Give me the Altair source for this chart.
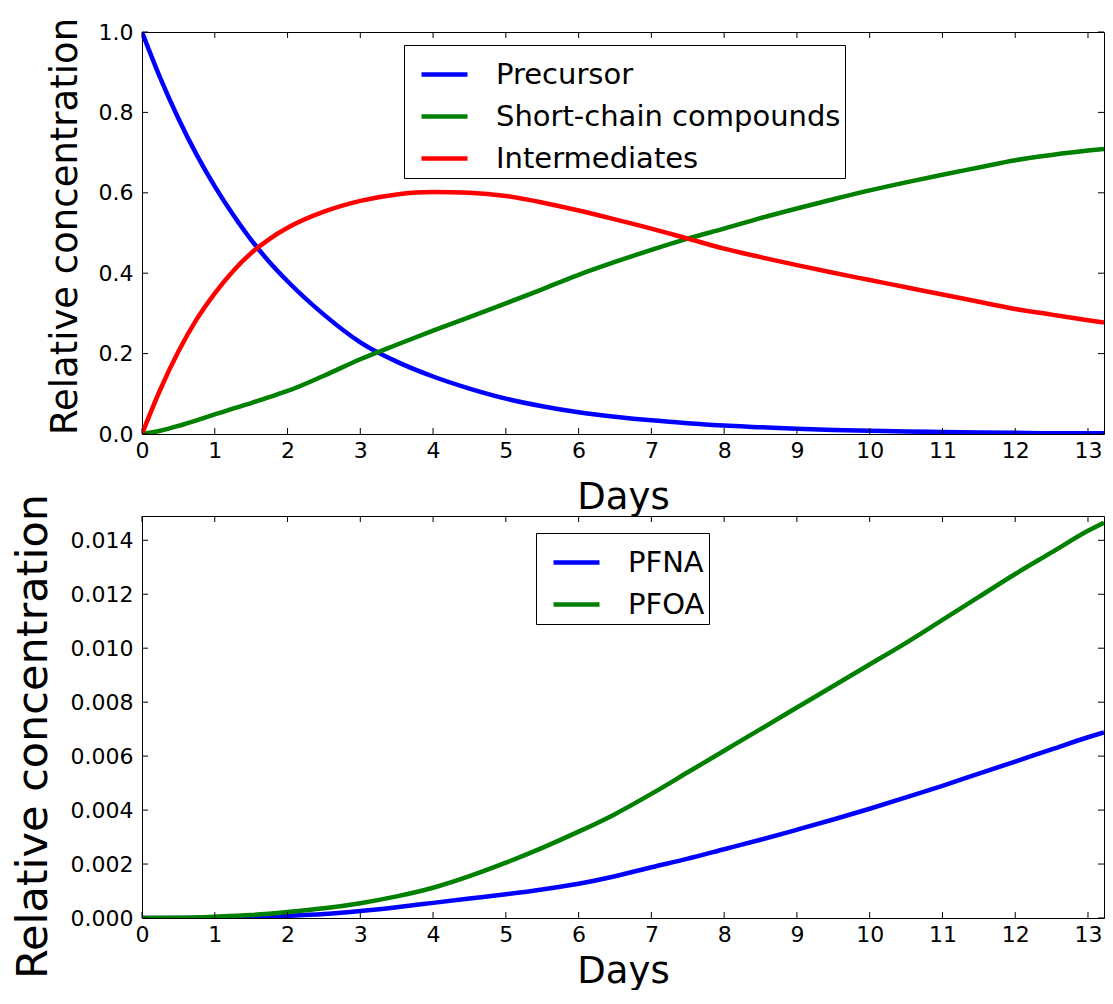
import altair as alt
import pandas as pd

# ---------------- data ----------------
days_top = [0, 0.25, 0.5, 0.75, 1, 1.25, 1.5, 1.75, 2, 2.5, 3, 3.5, 4, 4.5, 5, 5.5,
            6, 6.5, 7, 7.5, 8, 8.5, 9, 9.5, 10, 10.5, 11, 11.5, 12, 12.5, 13, 13.22]
precursor = [1.0, 0.886, 0.785, 0.695, 0.616, 0.546, 0.483, 0.428, 0.38, 0.297, 0.228,
             0.18, 0.143, 0.113, 0.088, 0.069, 0.054, 0.043, 0.034, 0.027, 0.021, 0.017,
             0.013, 0.010, 0.008, 0.006, 0.005, 0.004, 0.003, 0.002, 0.002, 0.002]
short_chain = [0.0, 0.008, 0.02, 0.034, 0.049, 0.063, 0.077, 0.092, 0.107, 0.145, 0.186,
               0.222, 0.257, 0.291, 0.325, 0.36, 0.396, 0.428, 0.458, 0.486, 0.511, 0.537,
               0.561, 0.584, 0.606, 0.626, 0.645, 0.663, 0.681, 0.694, 0.705, 0.709]
intermediates = [0.0, 0.11, 0.205, 0.285, 0.35, 0.405, 0.45, 0.485, 0.513, 0.553, 0.58,
                 0.596, 0.602, 0.600, 0.592, 0.576, 0.556, 0.534, 0.511, 0.486, 0.461, 0.44,
                 0.42, 0.401, 0.383, 0.365, 0.347, 0.329, 0.311, 0.297, 0.283, 0.277]

days_bottom = [0, 0.5, 1, 1.5, 2, 2.5, 3, 3.5, 4, 4.5, 5, 5.5, 6, 6.5, 7, 7.5, 8, 8.5,
               9, 9.5, 10, 10.5, 11, 11.5, 12, 12.5, 13, 13.22]
pfna = [0.0, 0.000002, 0.00001, 0.00003, 0.00008, 0.00015, 0.00026, 0.0004, 0.00056,
        0.00072, 0.00088, 0.00106, 0.00127, 0.00155, 0.00188, 0.0022, 0.00255, 0.0029,
        0.00327, 0.00365, 0.00405, 0.00447, 0.0049, 0.00535, 0.0058, 0.00625, 0.0067, 0.00688]
pfoa = [0.0, 0.00001, 0.00005, 0.00011, 0.00022, 0.00036, 0.00055, 0.0008, 0.00112,
        0.00155, 0.00205, 0.0026, 0.0032, 0.00385, 0.0046, 0.0054, 0.0062, 0.007, 0.0078,
        0.0086, 0.0094, 0.0102, 0.01105, 0.0119, 0.01275, 0.01355, 0.01435, 0.01465]

top_names = ["Precursor", "Short-chain compounds", "Intermediates"]
top_colors = ["#0000ff", "#008000", "#ff0000"]
bottom_names = ["PFNA", "PFOA"]
bottom_colors = ["#0000ff", "#008000"]

x_ticks = list(range(0, 14))
y_ticks_top = [0.0, 0.2, 0.4, 0.6, 0.8, 1.0]
y_ticks_bottom = [0.0, 0.002, 0.004, 0.006, 0.008, 0.010, 0.012, 0.014]

X_MAX = 13.22
W = 962
H1 = 402
H2 = 402
FONT = "DejaVu Sans"
TICK = 6


def long_frame(days, names, series):
    rows = []
    for name, vals in zip(names, series):
        for d, v in zip(days, vals):
            rows.append({"day": d, "value": v, "series": name})
    return pd.DataFrame(rows)


def panel(df, names, colors, ydomain, yticks, yfmt, H, ytitle_x, ytitle_y,
          ytitle_size, xtitle_y, lx, ly):
    x_enc = alt.X(
        "day:Q",
        scale=alt.Scale(domain=[0, X_MAX], nice=False, zero=False),
        axis=alt.Axis(
            values=x_ticks, format="d", title="Days", ticks=False, domain=False,
            grid=False, labelFont=FONT, labelFontSize=22, labelColor="#000",
            labelPadding=6, labelFlush=False, titleFont=FONT, titleFontSize=37,
            titleFontWeight="normal", titleColor="#000", titleX=W / 2, titleY=xtitle_y,
            titleBaseline="alphabetic", titleAlign="center",
        ),
    )
    y_enc = alt.Y(
        "value:Q",
        scale=alt.Scale(domain=ydomain, nice=False, zero=False),
        axis=alt.Axis(
            values=yticks, format=yfmt, title="Relative concentration", ticks=False,
            domain=False, grid=False, labelFont=FONT, labelFontSize=22,
            labelColor="#000", labelPadding=9, labelFlush=False, titleFont=FONT,
            titleFontSize=ytitle_size, titleFontWeight="normal", titleColor="#000",
            titleX=ytitle_x, titleY=ytitle_y, titleAngle=270,
            titleBaseline="alphabetic", titleAlign="center",
        ),
    )
    lines = alt.Chart(df).mark_line(strokeWidth=4.5, clip=True, interpolate="monotone").encode(
        x=x_enc,
        y=y_enc,
        color=alt.Color(
            "series:N",
            scale=alt.Scale(domain=names, range=colors),
            legend=alt.Legend(
                title=None, orient="none", legendX=lx, legendY=ly, direction="vertical",
                symbolType="stroke", symbolSize=2116, symbolStrokeWidth=4.5,
                symbolOffset=11, labelOffset=26, labelFont=FONT, labelFontSize=29,
                labelColor="#000", labelLimit=600, padding=4, rowPadding=1,
                strokeColor="#000", fillColor="#fff", cornerRadius=0,
            ),
        ),
    )
    xt = pd.DataFrame({"day": x_ticks})
    yt = pd.DataFrame({"value": yticks})
    tick_bottom = alt.Chart(xt).mark_rule(color="#000", strokeWidth=1).encode(
        x=x_enc, y=alt.value(H), y2=alt.value(H - TICK))
    tick_top = alt.Chart(xt).mark_rule(color="#000", strokeWidth=1).encode(
        x=x_enc, y=alt.value(0), y2=alt.value(TICK))
    tick_left = alt.Chart(yt).mark_rule(color="#000", strokeWidth=1).encode(
        y=y_enc, x=alt.value(0), x2=alt.value(TICK))
    tick_right = alt.Chart(yt).mark_rule(color="#000", strokeWidth=1).encode(
        y=y_enc, x=alt.value(W), x2=alt.value(W - TICK))
    return alt.layer(lines, tick_bottom, tick_top, tick_left, tick_right).properties(
        width=W, height=H)


top_df = long_frame(days_top, top_names, [precursor, short_chain, intermediates])
bottom_df = long_frame(days_bottom, bottom_names, [pfna, pfoa])

top = panel(top_df, top_names, top_colors, [0, 1.0], y_ticks_top, ".1f", H1,
            -66, H1 / 2 - 7, 37, 74, 262, 13)
bottom = panel(bottom_df, bottom_names, bottom_colors, [0, 0.0149], y_ticks_bottom,
               ".3f", H2, -96, H2 / 2 + 19, 43, 64, 394, 17)

chart = (
    alt.vconcat(top, bottom, spacing=82, bounds="flush")
    .resolve_scale(color="independent")
    .resolve_legend(color="independent")
    .configure_view(stroke="#000", strokeWidth=1)
    .properties(padding={"left": 3, "top": 8, "right": 0, "bottom": 0})
)

chart.save("out.html", embed_options={"renderer": "svg", "actions": False})
